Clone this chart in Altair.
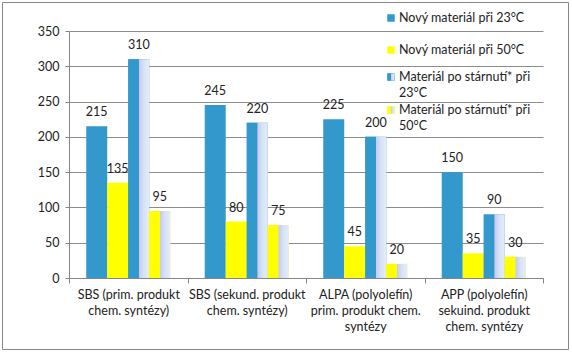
import altair as alt
import pandas as pd

categories = [
    "SBS (prim. produkt\nchem. syntézy)",
    "SBS (sekund. produkt\nchem. syntézy)",
    "ALPA (polyolefín)\nprim. produkt chem.\nsyntézy",
    "APP (polyolefín)\nsekuind. produkt\nchem. syntézy",
]
series = [
    "Nový materiál při 23°C",
    "Nový materiál při 50°C",
    "Materiál po stárnutí* při\n23°C",
    "Materiál po stárnutí* při\n50°C",
]
new_23 = [215, 245, 225, 150]
new_50 = [135, 80, 45, 35]
aged_23 = [310, 220, 200, 90]
aged_50 = [95, 75, 20, 30]
colors = ["#3399CC", "#FFFF00", "#3399CC", "#FFFF00"]
y_ticks = [0, 50, 100, 150, 200, 250, 300, 350]

rows = []
for s, vals in zip(series, [new_23, new_50, aged_23, aged_50]):
    for c, v in zip(categories, vals):
        rows.append({"cat": c, "series": s, "value": v})
df = pd.DataFrame(rows)

# legend layout (pixel offsets from the plot's top-left corner)
legend_first_line = [-13, 19, 46, 79]
leg = pd.DataFrame({"series": series, "ly": legend_first_line})

FONT = "Lato"
TXT = "#222222"
light = [
    alt.GradientStop(offset=0.52, color="#C9C9F2"),
    alt.GradientStop(offset=0.75, color="#D6E4F6"),
    alt.GradientStop(offset=1.0, color="#E4ECF8"),
]


def grad(col, split=0.5):
    return alt.LinearGradient(
        gradient="linear", x1=0, x2=1, y1=0, y2=0,
        stops=[alt.GradientStop(offset=0, color=col),
               alt.GradientStop(offset=split, color=col)] + light,
    )


color_scale = alt.Scale(domain=series, range=colors)

x_enc = alt.X(
    "cat:N", sort=categories,
    scale=alt.Scale(paddingInner=0, paddingOuter=0),
    axis=alt.Axis(
        title=None, labelAngle=0, tickBand="extent",
        labelExpr="split(datum.label, '\\n')", labelLineHeight=16,
        labelFont=FONT, labelFontSize=12.5, labelColor=TXT,
        labelPadding=5, tickSize=5, tickColor="#868686", domainColor="#868686",
        grid=False, labelBaseline="top",
    ),
)
xo_enc = alt.XOffset("series:N", sort=series,
                     scale=alt.Scale(domain=series, paddingOuter=0.82, paddingInner=0))
y_enc = alt.Y(
    "value:Q", scale=alt.Scale(domain=[0, 350], nice=False),
    axis=alt.Axis(
        title=None, values=y_ticks, grid=True, gridColor="#8C8C8C",
        domainColor="#868686", tickColor="#868686", tickSize=4,
        labelFont=FONT, labelFontSize=12.5, labelColor=TXT, labelPadding=6,
    ),
)

base = alt.Chart(df)

bars = base.mark_bar().encode(
    x=x_enc, xOffset=xo_enc, y=y_enc,
    color=alt.Color("series:N", scale=color_scale, legend=None),
)
aged_b = base.transform_filter(alt.datum.series == series[2]).mark_bar(
    color=grad("#3399CC")).encode(x=x_enc, xOffset=xo_enc, y=y_enc)
aged_y = base.transform_filter(alt.datum.series == series[3]).mark_bar(
    color=grad("#FFFF00")).encode(x=x_enc, xOffset=xo_enc, y=y_enc)

labels = base.mark_text(
    baseline="bottom", dy=-7, font=FONT, fontSize=12.5, color=TXT
).encode(x=x_enc, xOffset=xo_enc, y=y_enc, text="value:Q")

# manual legend
lbase = alt.Chart(leg)
lsq = lbase.mark_square(size=56, strokeWidth=0, opacity=1).encode(
    x=alt.value(322), y=alt.Y("ly:Q", scale=None),
    color=alt.Color("series:N", scale=color_scale, legend=None),
)
lsq_b = lbase.transform_filter(alt.datum.series == series[2]).mark_rect(
    color=grad("#3399CC", 0.55)).encode(
    x=alt.value(318.5), x2=alt.value(325.5),
    y=alt.Y("y0:Q", scale=None), y2=alt.Y2("y1:Q"),
).transform_calculate(y0="datum.ly - 3.5", y1="datum.ly + 3.5")
lsq_y = lbase.transform_filter(alt.datum.series == series[3]).mark_rect(
    color=grad("#FFFF00", 0.55)).encode(
    x=alt.value(318.5), x2=alt.value(325.5),
    y=alt.Y("y0:Q", scale=None), y2=alt.Y2("y1:Q"),
).transform_calculate(y0="datum.ly - 3.5", y1="datum.ly + 3.5")
ltxt = lbase.mark_text(
    align="left", baseline="middle", lineBreak="\n", lineHeight=16,
    font=FONT, fontSize=12.5, color=TXT,
).encode(x=alt.value(330), y=alt.Y("ly:Q", scale=None), text="series:N")

border = alt.Chart(alt.Data(values=[{}])).mark_rect(
    fill="transparent", stroke="#868686", strokeWidth=1
).encode(x=alt.value(-66.5), x2=alt.value(499.5), y=alt.value(-28.5), y2=alt.value(318.5))

chart = alt.layer(bars, aged_b, aged_y, labels, lsq, lsq_b, lsq_y, ltxt, border).properties(
    width=474, height=247,
    autosize=alt.AutoSizeParams(type="none"),
    padding={"left": 69, "top": 31, "right": 29, "bottom": 75},
    background="white",
).configure_view(stroke="transparent")

chart.save("out.html", embed_options={"renderer": "svg", "actions": False})
